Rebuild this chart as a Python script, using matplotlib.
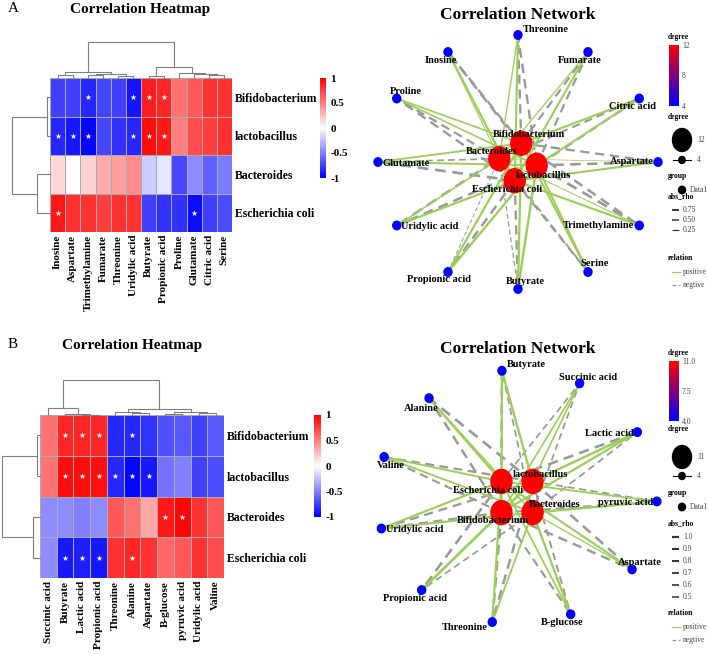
import numpy as np
import matplotlib.pyplot as plt
from matplotlib.colors import LinearSegmentedColormap, Normalize
from matplotlib.cm import ScalarMappable
from matplotlib.patches import Ellipse

plt.rcParams['font.family'] = ['Liberation Serif', 'DejaVu Serif']

# ---------------- data ----------------
bacteria = ['Bifidobacterium', 'lactobacillus', 'Bacteroides', 'Escherichia coli']

# panel A
a_cols = ['Inosine', 'Aspartate', 'Trimethylamine', 'Fumarate', 'Threonine', 'Uridylic acid',
          'Butyrate', 'Propionic acid', 'Proline', 'Glutamate', 'Citric acid', 'Serine']
a_rho = [[-0.75, -0.75, -0.85, -0.72, -0.75, -0.92, 0.88, 0.85, 0.55, 0.65, 0.80, 0.80],
         [-0.85, -0.90, -0.97, -0.72, -0.80, -0.85, 0.95, 0.90, 0.50, 0.70, 0.75, 0.80],
         [0.15, 0.00, 0.18, 0.33, 0.38, 0.45, -0.20, -0.10, -0.72, -0.45, -0.62, -0.52],
         [0.90, 0.80, 0.80, 0.75, 0.80, 0.80, -0.75, -0.80, -0.80, -0.95, -0.75, -0.70]]
a_sig = [[0, 0, 1, 0, 0, 1, 1, 1, 0, 0, 0, 0],
         [1, 1, 1, 0, 0, 1, 1, 1, 0, 0, 0, 0],
         [0, 0, 0, 0, 0, 0, 0, 0, 0, 0, 0, 0],
         [1, 0, 0, 0, 0, 0, 0, 0, 0, 1, 0, 0]]
# merges (left, right, height) ; index >= n refers to earlier merge
a_col_tree = [(6, 7, 0.05), (10, 11, 0.07), (9, 13, 0.10), (8, 14, 0.14), (12, 15, 0.30),
              (0, 1, 0.09), (2, 3, 0.07), (4, 5, 0.06), (18, 19, 0.12), (17, 20, 0.17),
              (21, 16, 1.0)]
a_row_tree = [(0, 1, 0.08), (2, 3, 0.34), (4, 5, 1.0)]
# network layout order (counter-clockwise from the right)
a_ring = ['Aspartate', 'Citric acid', 'Fumarate', 'Threonine', 'Inosine', 'Proline',
          'Glutamate', 'Uridylic acid', 'Propionic acid', 'Butyrate', 'Serine', 'Trimethylamine']
a_core = ['Bifidobacterium', 'Bacteroides', 'Escherichia coli', 'lactobacillus']

# panel B
b_cols = ['Succinic acid', 'Butyrate', 'Lactic acid', 'Propionic acid', 'Threonine', 'Alanine',
          'Aspartate', 'B-glucose', 'pyruvic acid', 'Uridylic acid', 'Valine']
b_rho = [[0.55, 0.85, 0.85, 0.85, -0.85, -0.85, -0.80, -0.68, -0.65, -0.75, -0.65],
         [0.55, 0.95, 0.95, 0.93, -0.85, -0.97, -0.90, -0.55, -0.50, -0.75, -0.70],
         [-0.45, -0.45, -0.50, -0.45, 0.65, 0.55, 0.35, 0.90, 0.97, 0.80, 0.65],
         [-0.45, -0.90, -0.88, -0.90, 0.80, 0.85, 0.80, 0.60, 0.65, 0.80, 0.70]]
b_sig = [[0, 1, 1, 1, 0, 1, 0, 0, 0, 0, 0],
         [0, 1, 1, 1, 1, 1, 1, 0, 0, 0, 0],
         [0, 0, 0, 0, 0, 0, 0, 1, 1, 0, 0],
         [0, 1, 1, 1, 0, 1, 0, 0, 0, 0, 0]]
b_col_tree = [(2, 3, 0.01), (1, 11, 0.02), (0, 12, 0.20), (5, 6, 0.05), (4, 14, 0.09),
              (7, 8, 0.04), (9, 10, 0.06), (16, 17, 0.10), (15, 18, 0.18), (13, 19, 1.0)]
b_row_tree = [(0, 1, 0.08), (2, 3, 0.18), (4, 5, 1.0)]
b_ring = ['pyruvic acid', 'Lactic acid', 'Succinic acid', 'Butyrate', 'Alanine', 'Valine',
          'Uridylic acid', 'Propionic acid', 'Threonine', 'B-glucose', 'Aspartate']
b_core = ['lactobacillus', 'Escherichia coli', 'Bifidobacterium', 'Bacteroides']

# ---------------- helpers ----------------
W, H = 708, 655
hm_cmap = LinearSegmentedColormap.from_list('hm', ['#0000FF', '#FFFFFF', '#FF0000'])
deg_cmap = LinearSegmentedColormap.from_list('deg', ['#0000FF', '#FF0000'])
POS_COL, NEG_COL = '#9CCF5A', '#999999'
DASH = (0, (4, 2.5))


def px_axes(fig, x0, y0, x1, y1):
    return fig.add_axes([x0 / W, 1 - y1 / H, (x1 - x0) / W, (y1 - y0) / H])


def tree_segments(n, merges):
    pos = {i: (i, 0.0) for i in range(n)}
    segs = []
    for k, (a, b, h) in enumerate(merges):
        xa, ha = pos[a]
        xb, hb = pos[b]
        segs.append(([xa, xa, xb, xb], [ha, h, h, hb]))
        pos[n + k] = ((xa + xb) / 2, h)
    return segs


def heatmap(fig, box, cols, rho, sig, col_tree, row_tree, top, left, cbox):
    x0, y0, x1, y1 = box
    data = np.array(rho)
    nr, nc = data.shape
    ax = px_axes(fig, *box)
    mesh = ax.pcolormesh(np.arange(nc + 1) - 0.5, np.arange(nr + 1) - 0.5, data, cmap=hm_cmap,
                         vmin=-1, vmax=1, edgecolors='#a9a9a9', linewidth=0.5)
    ax.set_xlim(-0.5, nc - 0.5)
    ax.set_ylim(nr - 0.5, -0.5)
    yy, xx = np.nonzero(np.array(sig))
    ax.scatter(xx, yy, marker='*', s=20, c='white', linewidths=0, zorder=3)
    ax.set_xticks(range(nc))
    ax.set_xticklabels(cols, rotation=90, fontsize=8, fontweight='bold')
    ax.set_yticks(range(nr))
    ax.set_yticklabels(bacteria, fontsize=8.5, fontweight='bold')
    ax.yaxis.tick_right()
    ax.tick_params(length=0, pad=2)
    for s in ax.spines.values():
        s.set_visible(False)

    # column dendrogram
    axc = px_axes(fig, x0, top, x1, y0)
    for xs, hs in tree_segments(nc, col_tree):
        axc.plot(xs, hs, color='#7f7f7f', lw=0.8, clip_on=False)
    axc.set_xlim(-0.5, nc - 0.5)
    axc.set_ylim(0, 1)
    axc.axis('off')

    # row dendrogram
    axr = px_axes(fig, left, y0, x0, y1)
    for ys, hs in tree_segments(nr, row_tree):
        axr.plot(hs, ys, color='#7f7f7f', lw=0.8, clip_on=False)
    axr.set_xlim(1, 0)
    axr.set_ylim(nr - 0.5, -0.5)
    axr.axis('off')

    cax = px_axes(fig, *cbox)
    cb = fig.colorbar(mesh, cax=cax, ticks=[1, 0.5, 0, -0.5, -1])
    cb.set_ticklabels(['1', '0.5', '0', '-0.5', '-1'])
    cb.outline.set_visible(False)
    cb.ax.tick_params(length=0, labelsize=8, pad=3)
    for t in cb.ax.get_yticklabels():
        t.set_fontweight('bold')


def network(ax, center, ring, core, cols, rho, ring_start, core_start, core_r,
            ring_off, core_off):
    cx, cy = center
    max_deg = len(ring)
    pos = {}
    angs = np.deg2rad(ring_start + 360.0 / len(ring) * np.arange(len(ring)))
    for name, a in zip(ring, angs):
        pos[name] = (cx + 140 * np.cos(a), cy - 127 * np.sin(a))
    cpos = {}
    angs = np.deg2rad(core_start + 90.0 * np.arange(len(core)))
    for name, a in zip(core, angs):
        cpos[name] = (cx + core_r * np.cos(a), cy - core_r * np.sin(a))

    edges = []
    for i, b in enumerate(bacteria):
        for j, c in enumerate(cols):
            edges.append((rho[i][j], cpos[b], pos[c]))
    for v, p1, p2 in sorted(edges, key=lambda e: e[0]):
        if v >= 0:
            ax.plot([p1[0], p2[0]], [p1[1], p2[1]], color=POS_COL, lw=0.5 + 1.3 * abs(v), zorder=1)
        else:
            ax.plot([p1[0], p2[0]], [p1[1], p2[1]], color=NEG_COL, lw=0.6 + 1.4 * abs(v),
                    ls=DASH, zorder=1)

    norm = Normalize(4, max_deg)
    for name in ring:
        x, y = pos[name]
        ax.add_patch(Ellipse((x, y), 8, 8.5, color=deg_cmap(norm(4)), zorder=3))
        dx, dy = ring_off[name]
        ax.text(x + dx, y + dy, name, ha='center', va='center', fontsize=7.5,
                fontweight='bold', zorder=5)
    for name in core:
        x, y = cpos[name]
        ax.add_patch(Ellipse((x, y), 21, 24, color=deg_cmap(norm(max_deg)), zorder=3))
    for name in core:
        x, y = cpos[name]
        dx, dy = core_off[name]
        ax.text(x + dx, y + dy, name, ha='center', va='center', fontsize=7.5,
                fontweight='bold', zorder=5)


def legend(fig, ax, ys, max_deg, deg_ticks, deg_labels, rho_vals, rho_fmt, rho_step):
    fs = 5.5
    tc = '#444444'
    ax.text(668, ys[0], 'degree', fontsize=fs, fontweight='bold', va='center')
    cax = px_axes(fig, 669, ys[1], 679, ys[2])
    cb = fig.colorbar(ScalarMappable(Normalize(4, max_deg), deg_cmap), cax=cax, ticks=deg_ticks)
    cb.set_ticklabels(deg_labels)
    cb.outline.set_visible(False)
    cb.ax.tick_params(length=0, labelsize=fs, labelcolor=tc, pad=2)
    ax.text(668, ys[3], 'degree', fontsize=fs, fontweight='bold', va='center')
    ax.add_patch(Ellipse((682, ys[4]), 19, 23, color='black'))
    ax.text(697, ys[4], str(max_deg), fontsize=fs, color=tc, va='center')
    ax.plot([673, 691], [ys[5], ys[5]], color='black', lw=0.8)
    ax.add_patch(Ellipse((682, ys[5]), 6.5, 7, color='black'))
    ax.text(697, ys[5], '4', fontsize=fs, color=tc, va='center')
    ax.text(668, ys[6], 'group', fontsize=fs, fontweight='bold', va='center')
    ax.add_patch(Ellipse((682, ys[7]), 7, 7.5, color='black'))
    ax.text(690, ys[7], 'Data1', fontsize=fs, color=tc, va='center')
    ax.text(668, ys[8], 'abs_rho', fontsize=fs, fontweight='bold', va='center')
    for k, v in enumerate(rho_vals):
        y = ys[8] + 14 + rho_step * k
        ax.plot([672, 679], [y, y], color='#333333', lw=0.6 + 1.0 * v, solid_capstyle='butt')
        ax.text(683, y, rho_fmt.format(v), fontsize=fs, color=tc, va='center')
    ax.text(668, ys[9], 'relation', fontsize=fs, fontweight='bold', va='center')
    ax.plot([672, 680], [ys[9] + 14, ys[9] + 14], color=POS_COL, lw=0.9)
    ax.plot([672, 680], [ys[9] + 27, ys[9] + 27], color=NEG_COL, lw=0.9, ls=(0, (3, 2)))
    ax.text(683, ys[9] + 14, 'positive', fontsize=fs, color=tc, va='center')
    ax.text(683, ys[9] + 27, 'negtive', fontsize=fs, color=tc, va='center')


# ---------------- figure ----------------
fig = plt.figure(figsize=(7.08, 6.55), dpi=100)
over = fig.add_axes([0, 0, 1, 1])
over.set_xlim(0, W)
over.set_ylim(H, 0)
over.axis('off')

heatmap(fig, (50, 78, 232, 232), a_cols, a_rho, a_sig, a_col_tree, a_row_tree,
        42, 12, (320, 78, 326, 178))
heatmap(fig, (40, 415, 224, 578), b_cols, b_rho, b_sig, b_col_tree, b_row_tree,
        380, 2, (314, 415, 321, 517))

over.text(8, 9, 'A', fontsize=11, va='center')
over.text(140, 9, 'Correlation Heatmap', fontsize=11, fontweight='bold', ha='center', va='center')
over.text(8, 345, 'B', fontsize=11, va='center')
over.text(132, 345, 'Correlation Heatmap', fontsize=11, fontweight='bold', ha='center', va='center')
over.text(518, 15, 'Correlation Network', fontsize=12.5, fontweight='bold', ha='center', va='center')
over.text(518, 349, 'Correlation Network', fontsize=12.5, fontweight='bold', ha='center', va='center')

a_ring_off = {'Aspartate': (-26, 0), 'Citric acid': (-7, 8), 'Fumarate': (-8, 8),
              'Threonine': (28, -5), 'Inosine': (-7, 8), 'Proline': (9, -7),
              'Glutamate': (28, 1), 'Uridylic acid': (33, 1), 'Propionic acid': (-9, 8),
              'Butyrate': (7, -8), 'Serine': (7, -8), 'Trimethylamine': (-41, 0)}
a_core_off = {'Bifidobacterium': (8, -9), 'Bacteroides': (-8, -7),
              'lactobacillus': (7, 10), 'Escherichia coli': (-8, 9)}
network(over, (518, 162), a_ring, a_core, a_cols, a_rho, 0, 80, 19, a_ring_off, a_core_off)

b_ring_off = {'pyruvic acid': (-31, 1), 'Lactic acid': (-28, 1), 'Succinic acid': (8, -6),
              'Butyrate': (24, -6), 'Alanine': (-8, 10), 'Valine': (7, 9),
              'Uridylic acid': (33, 1), 'Propionic acid': (-7, 8), 'Threonine': (-27, 6),
              'B-glucose': (-8, 8), 'Aspartate': (8, -7)}
b_core_off = {'lactobacillus': (8, -7), 'Escherichia coli': (-13, 9),
              'Bifidobacterium': (-8, 8), 'Bacteroides': (22, -8)}
network(over, (517, 497), b_ring, b_core, b_cols, b_rho, -2, 45, 22, b_ring_off, b_core_off)

legend(fig, over, [37, 45, 106, 117, 140, 160, 176, 190, 196, 258], 12,
       [4, 8, 12], ['4', '8', '12'], [0.75, 0.50, 0.25], '{:.2f}', 10)
legend(fig, over, [353, 361, 421, 429, 457, 476, 493, 507, 523, 613], 11,
       [4, 7.5, 11], ['4.0', '7.5', '11.0'], [1.0, 0.9, 0.8, 0.7, 0.6, 0.5], '{:.1f}', 12)

fig.savefig('out.png', dpi=100)
